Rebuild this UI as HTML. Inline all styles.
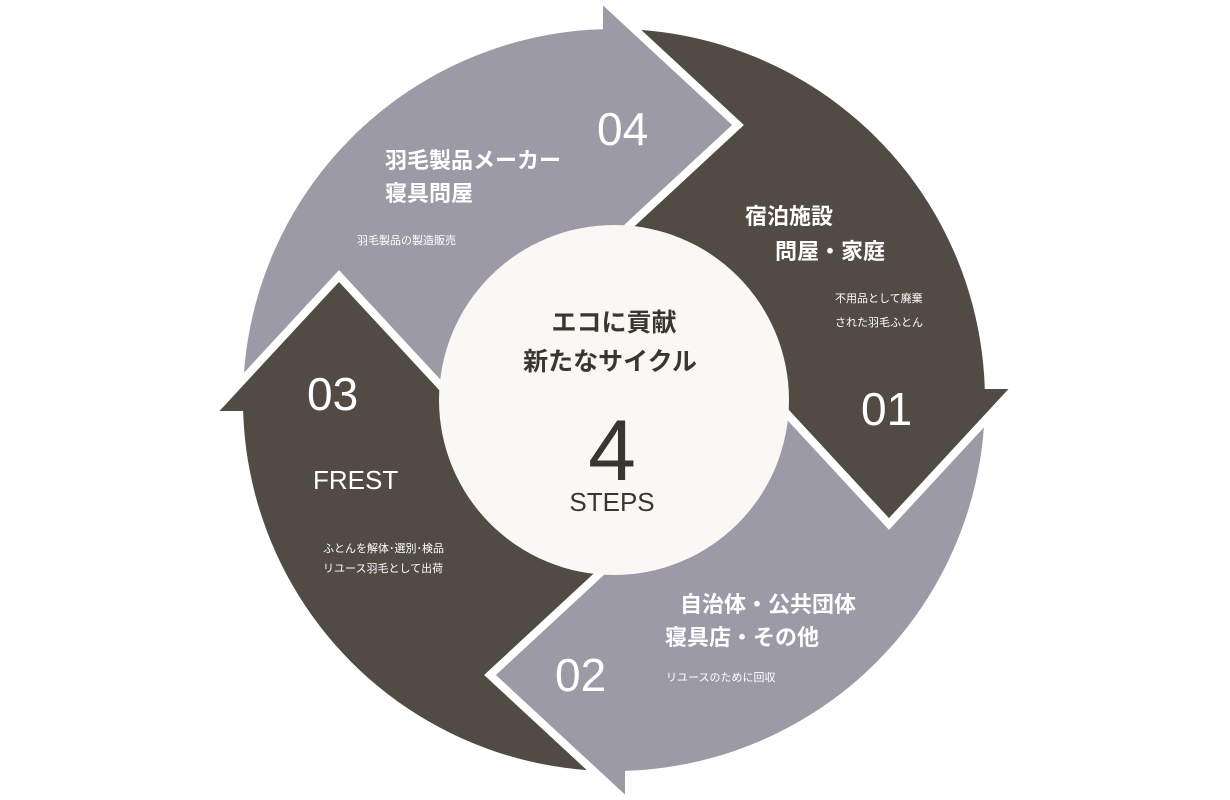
<!DOCTYPE html>
<html><head><meta charset="utf-8"><style>
body{margin:0;background:#fff;width:1230px;height:800px;overflow:hidden}
svg{display:block}
text{font-family:"Liberation Sans","Noto Sans CJK JP",sans-serif}
.w{fill:#fff}
.b{font-weight:bold;font-size:22px}
.s{font-size:11px}
.n{font-size:46px;font-weight:300}
</style></head><body>
<svg width="1230" height="800" viewBox="0 0 1230 800">
<defs>
<clipPath id="ann"><path d="M614,29 a371,371 0 1,1 -0.1,0 Z" /></clipPath>
</defs>
<g clip-path="url(#ann)">
<rect x="0" y="0" width="603" height="411" fill="#9d9aa7"/>
<rect x="603" y="0" width="627" height="389" fill="#524b44"/>
<rect x="625" y="389" width="605" height="411" fill="#9d9aa7"/>
<rect x="0" y="411" width="625" height="389" fill="#524b44"/>
</g>
<polygon points="603,0 738,125 603,250" fill="#9d9aa7"/>
<polyline points="603,0 738,125 603,250" fill="none" stroke="#fff" stroke-width="8"/>
<polygon points="1014,389 889,524 764,389" fill="#524b44"/>
<polyline points="1014,389 889,524 764,389" fill="none" stroke="#fff" stroke-width="8"/>
<polygon points="625,800 490,675 625,550" fill="#9d9aa7"/>
<polyline points="625,800 490,675 625,550" fill="none" stroke="#fff" stroke-width="8"/>
<polygon points="214,411 339,276 464,411" fill="#524b44"/>
<polyline points="214,411 339,276 464,411" fill="none" stroke="#fff" stroke-width="8"/>
<circle cx="614" cy="400" r="175" fill="#f9f8f4"/>
<text x="597" y="145" class="w n">04</text>
<text x="385" y="168" class="w b">羽毛製品メーカー</text>
<text x="385" y="201" class="w b">寝具問屋</text>
<text x="357" y="244" class="w s">羽毛製品の製造販売</text>
<text x="745" y="224" class="w b">宿泊施設</text>
<text x="775" y="259" class="w b">問屋・家庭</text>
<text x="835" y="302" class="w s">不用品として廃棄</text>
<text x="835" y="326" class="w s">された羽毛ふとん</text>
<text x="861" y="425" class="w n">01</text>
<text x="614" y="331" text-anchor="middle" font-size="25" font-weight="bold" fill="#3a3531">エコに貢献</text>
<text x="610" y="370" text-anchor="middle" font-size="25" font-weight="bold" fill="#3a3531">新たなサイクル</text>
<text x="612" y="480" text-anchor="middle" font-size="86" font-weight="300" fill="#3a3531">4</text>
<text x="612" y="511" text-anchor="middle" font-size="26" fill="#3a3531">STEPS</text>
<text x="307" y="410" class="w n">03</text>
<text x="313" y="489" class="w" font-size="26">FREST</text>
<text x="323" y="552" class="w s">ふとんを解体･選別･検品</text>
<text x="323" y="572" class="w s">リユース羽毛として出荷</text>
<text x="680" y="612" class="w b">自治体・公共団体</text>
<text x="665" y="645" class="w b">寝具店・その他</text>
<text x="555" y="691" class="w n">02</text>
<text x="666" y="681" class="w s">リユースのために回収</text>
</svg>
</body></html>
